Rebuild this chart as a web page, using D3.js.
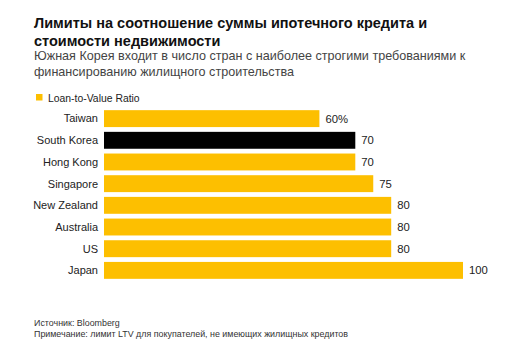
<!DOCTYPE html>
<html><head><meta charset="utf-8">
<script src="https://cdn.jsdelivr.net/npm/d3@7"></script>
<style>body{margin:0;background:#fff;} svg{display:block;font-family:"Liberation Sans",Arial,sans-serif;}</style>
</head><body>
<svg id="c" width="507" height="348"></svg>
<script>
const categories = ["Taiwan","South Korea","Hong Kong","Singapore","New Zealand","Australia","US","Japan"];
const values = [60,70,70,75,80,80,80,100];
const valueLabels = ["60%","70","70","75","80","80","80","100"];
const highlight = ["South Korea"];
const titleLines = ["Лимиты на соотношение суммы ипотечного кредита и","стоимости недвижимости"];
const subtitleLines = ["Южная Корея входит в число стран с наиболее строгими требованиями к","финансированию жилищного строительства"];
const legendLabel = "Loan-to-Value Ratio";
const footLines = ["Источник: Bloomberg","Примечание: лимит LTV для покупателей, не имеющих жилищных кредитов"];

const svg = d3.select("#c");
const yellow = "#FDBF00";
const x = d3.scaleLinear().domain([0,100]).range([104,463]);
const y = d3.scaleBand().domain(categories).range([108,281]).paddingInner(0.22).paddingOuter(0.1);

svg.append("g").selectAll("text").data(titleLines).join("text")
  .attr("x",34).attr("y",(d,i)=>28+i*18).attr("font-size",14.5).attr("font-weight","bold").attr("fill","#111").text(d=>d);
svg.append("g").selectAll("text").data(subtitleLines).join("text")
  .attr("x",34).attr("y",(d,i)=>60+i*15.5).attr("font-size",12.6).attr("fill","#444").text(d=>d);

svg.append("rect").attr("x",36).attr("y",94).attr("width",6.5).attr("height",6.5).attr("fill",yellow);
svg.append("text").attr("x",48).attr("y",101.5).attr("font-size",10.4).attr("fill","#222").text(legendLabel);

svg.append("g").selectAll("rect").data(categories).join("rect")
  .attr("x",x(0)).attr("y",d=>y(d)).attr("height",y.bandwidth())
  .attr("width",(d,i)=>x(values[i])-x(0))
  .attr("fill",d=>highlight.includes(d)?"#000":yellow);

svg.append("g").selectAll("text").data(categories).join("text")
  .attr("x",98).attr("y",d=>y(d)+y.bandwidth()/2).attr("dy","0.35em")
  .attr("text-anchor","end").attr("font-size",11).attr("fill","#222").text(d=>d);

svg.append("g").selectAll("text").data(categories).join("text")
  .attr("x",(d,i)=>x(values[i])+6).attr("y",d=>y(d)+y.bandwidth()/2).attr("dy","0.35em")
  .attr("font-size",11.3).attr("fill","#222").text((d,i)=>valueLabels[i]);

svg.append("g").selectAll("text").data(footLines).join("text")
  .attr("x",34).attr("y",(d,i)=>326+i*10.5).attr("font-size",8.9).attr("fill","#333").text(d=>d);
</script>
</body></html>
